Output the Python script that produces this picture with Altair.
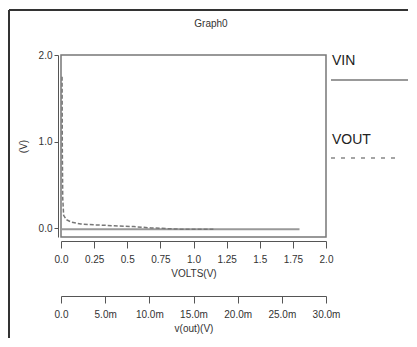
import altair as alt
import pandas as pd

# ---- data ----
vin_x = [0.0, 1.8]
vin_y = [-0.01, -0.01]

vout_x = [0.008, 0.01, 0.013, 0.02, 0.04, 0.08, 0.15, 0.25, 0.4, 0.55, 0.68, 0.9, 1.15]
vout_y = [1.75, 0.9, 0.35, 0.15, 0.1, 0.07, 0.05, 0.04, 0.03, 0.02, 0.005, -0.01, -0.01]

x_ticks = [0.0, 0.25, 0.5, 0.75, 1.0, 1.25, 1.5, 1.75, 2.0]
x2_ticks = [0.0, 0.005, 0.01, 0.015, 0.02, 0.025, 0.03]
y_ticks = [0.0, 1.0, 2.0]
series = ["VIN", "VOUT"]

FONT = "Liberation Sans"
W, H = 265, 182

vin_df = pd.DataFrame({"x": vin_x, "y": vin_y})
vout_df = pd.DataFrame({"x": vout_x, "y": vout_y})
one = pd.DataFrame({"a": [0]})

xscale = alt.Scale(domain=[0, 2], nice=False, zero=False)
yscale = alt.Scale(domain=[-0.1, 2.0], nice=False, zero=False)

def make_xaxis():
    return alt.Axis(values=x_ticks, title="VOLTS(V)", orient="bottom", offset=4,
                    tickSize=7, labelPadding=6, titlePadding=4, grid=False,
                    labelOverlap=False, tickCount=9,
                    labelExpr="datum.value == 0.25 || datum.value == 0.75 || datum.value == 1.25 || datum.value == 1.75 ? format(datum.value, '.2f') : format(datum.value, '.1f')",
                    domainColor="#555", tickColor="#555", labelFlush=False)

def make_yaxis():
    return alt.Axis(values=y_ticks, title="(V)", format=".1f", offset=3, tickSize=4,
                    labelPadding=2, titlePadding=10, grid=False,
                    domainColor="#555", tickColor="#555")

vin_line = alt.Chart(vin_df).mark_line(color="#999", strokeWidth=2).encode(
    x=alt.X("x:Q", scale=xscale, axis=make_xaxis()),
    y=alt.Y("y:Q", scale=yscale, axis=make_yaxis()),
)
vout_line = alt.Chart(vout_df).mark_line(color="#777", strokeWidth=1.5, strokeDash=[4, 2]).encode(
    x=alt.X("x:Q", scale=xscale, axis=make_xaxis()),
    y=alt.Y("y:Q", scale=yscale, axis=make_yaxis()),
)

main = alt.layer(vin_line, vout_line)

# second (independent) x axis for v(out)
x2_df = pd.DataFrame({"x2": [x2_ticks[0], x2_ticks[-1]]})
x2_layer = alt.Chart(x2_df).mark_point(opacity=0).encode(
    x=alt.X("x2:Q", scale=alt.Scale(domain=[0, 0.03], nice=False, zero=False),
            axis=alt.Axis(values=x2_ticks, title="v(out)(V)", orient="bottom", offset=59,
                          tickSize=7, labelPadding=6, titlePadding=4, grid=False,
                          labelOverlap=False,
                          labelExpr="datum.value == 0 ? '0.0' : format(datum.value * 1000, '.1f') + 'm'",
                          domainColor="#555", tickColor="#555", labelFlush=False)),
)

# title and legend drawn as text/rules
title = alt.Chart(one).mark_text(text="Graph0", font=FONT, fontSize=10, color="#333").encode(
    x=alt.value(150), y=alt.value(-31))
leg_vin_t = alt.Chart(one).mark_text(text=series[0], font=FONT, fontSize=14, color="#222", align="left").encode(
    x=alt.value(271), y=alt.value(6))
leg_vin_l = alt.Chart(one).mark_rule(color="#999", strokeWidth=2).encode(
    x=alt.value(270), x2=alt.value(349), y=alt.value(25))
leg_vout_t = alt.Chart(one).mark_text(text=series[1], font=FONT, fontSize=14, color="#222", align="left").encode(
    x=alt.value(271), y=alt.value(85))
leg_vout_l = alt.Chart(one).mark_rule(color="#888", strokeWidth=1.5, strokeDash=[4, 6]).encode(
    x=alt.value(270), x2=alt.value(340), y=alt.value(103))

frame_top = alt.Chart(one).mark_rule(color="#333", strokeWidth=2).encode(
    x=alt.value(-52), x2=alt.value(360), y=alt.value(-45))
frame_left = alt.Chart(one).mark_rule(color="#333", strokeWidth=2).encode(
    x=alt.value(-52), y=alt.value(-45), y2=alt.value(300))

chart = alt.layer(
    main, x2_layer, title, leg_vin_t, leg_vin_l, leg_vout_t, leg_vout_l, frame_top, frame_left
).resolve_scale(x="independent").properties(
    width=W, height=H,
    autosize=alt.AutoSizeParams(type="none"),
    padding={"left": 53, "top": 47, "right": 82, "bottom": 101},
    background="white",
).configure_view(
    stroke="#777", strokeWidth=1.5
).configure_axis(
    labelFont=FONT, titleFont=FONT, labelFontSize=10, titleFontSize=10,
    labelColor="#333", titleColor="#333", titleFontWeight="normal",
)

chart.save("out.html", embed_options={"renderer": "svg", "actions": False})
